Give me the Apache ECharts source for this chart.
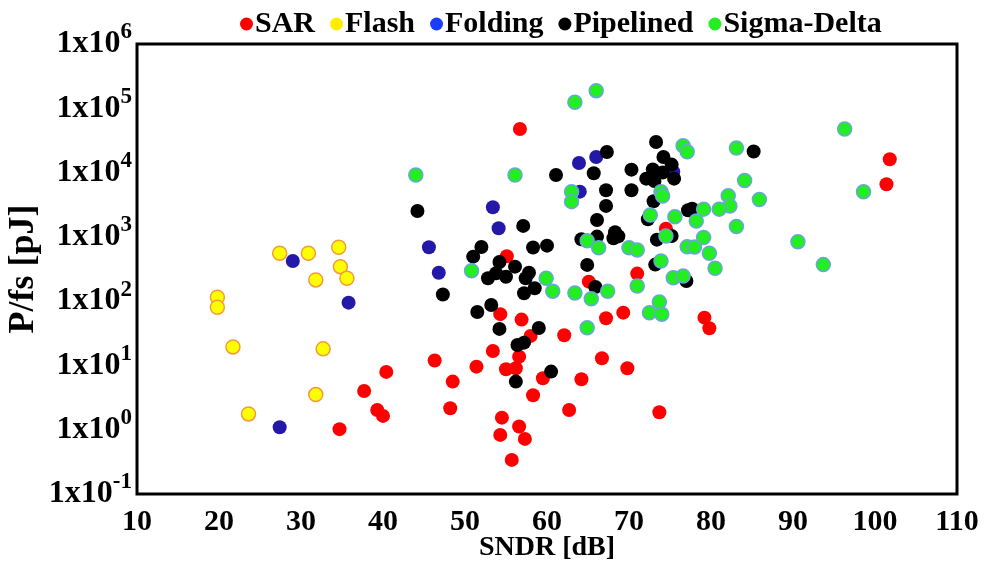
<!DOCTYPE html>
<html><head><meta charset="utf-8">
<script src="https://cdn.jsdelivr.net/npm/echarts@6/dist/echarts.min.js"></script>
<style>html,body{margin:0;padding:0;background:#fff}#c{width:987px;height:570px}</style>
</head><body><div id="c"></div>
<script>
const seriesNames = ['SAR','Flash','Folding','Pipelined','Sigma-Delta'];
const xTicks = [10,20,30,40,50,60,70,80,90,100,110];
const yExponents = [-1,0,1,2,3,4,5,6];

const sarData = [[56.7,47600],[101.8,16100],[101.4,6580],[55.1,499],[74.5,1340],[71.0,268],[65.1,201],[54.3,62.8],[56.9,51.6],[69.3,66.2],[67.2,54.2],[79.2,55.4],[79.8,37.9],[62.1,29.5],[58.0,28.8],[53.4,16.8],[56.6,13.7],[46.3,11.9],[51.4,9.58],[55.0,8.73],[56.2,9.04],[66.7,12.9],[69.8,9.04],[64.2,6.1],[59.5,6.32],[48.5,5.6],[40.4,7.93],[37.7,4.01],[58.3,3.44],[48.2,2.16],[62.7,2.03],[73.7,1.87],[39.3,2.03],[40.0,1.64],[34.7,1.02],[54.5,1.54],[56.6,1.12],[54.3,0.83],[57.3,0.72],[55.7,0.339]];
const flashData = [[27.4,556],[30.9,556],[34.6,689],[34.8,344],[35.6,227],[31.8,214],[19.8,115],[19.8,80.4],[21.7,19.4],[32.7,18.1],[31.8,3.52],[23.6,1.76]];
const foldingData = [[29.0,422],[35.8,94.8],[27.4,1.09],[63.9,14100],[66.0,17500],[64.0,5050],[53.4,2890],[54.1,1360],[45.6,689],[46.8,277],[75.4,10300]];
const pipelinedData = [[61.1,9180],[44.2,2530],[57.1,1480],[58.3,684],[60.0,730],[52.0,697],[51.0,492],[47.3,127],[54.2,407],[56.1,344],[57.8,277],[52.8,227],[53.8,272],[55.0,240],[57.4,227],[58.5,159],[57.2,133],[53.2,87.3],[51.5,67.9],[54.2,37.0],[59.0,38.3],[56.4,20.8],[57.2,22.6],[60.5,8.01],[56.2,5.6],[73.3,29900],[67.3,20900],[85.2,21300],[74.2,17500],[75.2,13300],[70.3,11100],[65.7,9750],[72.9,11200],[72.1,8040],[73.1,7400],[74.1,10000],[75.5,8040],[67.2,5310],[70.3,5310],[67.2,3030],[73.0,3580],[77.2,2590],[77.7,2740],[72.3,1880],[66.1,1830],[64.2,918],[66.1,1010],[68.3,1180],[68.7,1020],[68.1,951],[73.4,904],[75.2,1030],[64.9,366],[73.2,370],[77.0,206],[65.9,166]];
const sigmaDeltaData = [[66.0,188000],[63.4,124000],[44.0,9180],[56.1,9180],[76.6,26200],[77.1,21100],[83.1,24100],[96.3,47600],[63.0,5050],[63.0,3530],[73.9,5050],[74.1,4330],[84.1,7540],[82.1,4370],[82.3,3030],[85.9,3820],[98.6,5050],[72.6,2190],[75.6,2060],[79.1,2700],[81.0,2700],[78.2,1770],[83.1,1450],[74.5,1030],[64.9,873],[66.3,679],[70.0,679],[71.0,625],[77.1,704],[78.0,697],[79.1,979],[79.8,556],[80.5,325],[73.9,422],[90.6,842],[93.7,370],[50.8,298],[59.9,227],[60.7,143],[63.4,134],[71.0,172],[75.4,232],[76.6,247],[67.4,143],[65.4,109],[73.7,97.2],[72.5,66.2],[74.0,62.5],[64.9,38.7]];

const FONT = '"Liberation Serif", "Times New Roman", serif';
const chart = echarts.init(document.getElementById('c'), null, {renderer:'canvas'});

const styles = [
  {color:'#ff0000'},
  {color:'#ffff00', borderColor:'#f39a3c', borderWidth:1.5},
  {color:'#2418a8'},
  {color:'#000000'},
  {color:'#22ee22', borderColor:'#6aa6d8', borderWidth:1.5}
];
const legendColors = ['#ff0000','#ffee00','#1a3cff','#000000','#22ee22'];
const datasets = [sarData, flashData, foldingData, pipelinedData, sigmaDeltaData];

chart.setOption({
  backgroundColor:'#fff',
  animation:false,
  legend:{
    left:235, top:4, itemGap:15, itemWidth:13, itemHeight:13, icon:'circle',
    textStyle:{fontFamily:FONT, fontWeight:'bold', fontSize:30, color:'#000', padding:[0,0,0,-3]},
    data: seriesNames.map((n,i)=>({name:n, icon:'circle', itemStyle:{color:legendColors[i], borderWidth:0}}))
  },
  grid:{left:137, right:30, top:44, bottom:76, show:true, borderColor:'#000', borderWidth:3, backgroundColor:'#fff', outerBoundsMode:'none', containLabel:false},
  xAxis:{
    type:'value', min:xTicks[0], max:xTicks[xTicks.length-1], interval:10,
    name:'SNDR [dB]', nameLocation:'middle', nameGap:40, nameMoveOverlap:false,
    nameTextStyle:{fontFamily:FONT, fontWeight:'bold', fontSize:28, color:'#000'},
    axisLine:{show:false}, axisTick:{show:false}, splitLine:{show:false},
    axisLabel:{margin:13, fontFamily:FONT, fontWeight:'bold', fontSize:30, color:'#000',
      formatter:v=> xTicks.indexOf(v)>=0 ? String(v) : ''}
  },
  yAxis:{
    type:'log', logBase:10, min:Math.pow(10,yExponents[0]), max:Math.pow(10,yExponents[yExponents.length-1]), splitNumber:7,
    name:'P/fs [pJ]', nameLocation:'middle', nameGap:95, nameRotate:90, nameMoveOverlap:false,
    nameTextStyle:{fontFamily:FONT, fontWeight:'bold', fontSize:36, color:'#000'},
    axisLine:{show:false}, axisTick:{show:false}, splitLine:{show:false}, minorTick:{show:false},
    axisLabel:{margin:5, color:'#000',
      formatter:v=>{ const e=Math.round(Math.log10(v)); return '{b|1x10}{s|'+e+'}'; },
      rich:{
        b:{fontFamily:FONT, fontWeight:'bold', fontSize:32, lineHeight:46, verticalAlign:'middle', color:'#000'},
        s:{fontFamily:FONT, fontWeight:'bold', fontSize:23, lineHeight:16, verticalAlign:'top', color:'#000'}
      }
    }
  },
  series: seriesNames.map((n,i)=>({
    name:n, type:'scatter', symbol:'circle', symbolSize:14,
    itemStyle:Object.assign({opacity:1}, styles[i]),
    emphasis:{disabled:true},
    data: datasets[i]
  }))
});
</script></body></html>
